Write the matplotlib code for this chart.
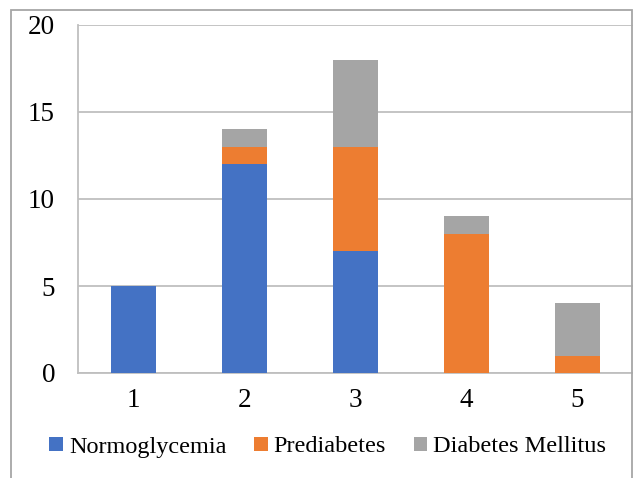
import matplotlib
matplotlib.use("Agg")
import matplotlib.pyplot as plt
from matplotlib.patches import Rectangle, Patch
import numpy as np

plt.rcParams['font.family'] = ['Liberation Serif', 'DejaVu Serif']

# chart data
categories = ["1", "2", "3", "4", "5"]
normoglycemia = [5, 12, 7, 0, 0]
prediabetes = [0, 1, 6, 8, 1]
diabetes_mellitus = [0, 1, 5, 1, 3]
series_names = ["Normoglycemia", "Prediabetes", "Diabetes Mellitus"]
series_colors = ["#4472C4", "#ED7D31", "#A5A5A5"]

fig = plt.figure(figsize=(6.33, 4.78), dpi=100)
ax = fig.add_axes([78 / 633, 1 - 373 / 478, 1 - 78 / 633, (373 - 25) / 478])

x = np.arange(len(categories))
bottom = np.zeros(len(categories))
for vals, name, col in zip([normoglycemia, prediabetes, diabetes_mellitus], series_names, series_colors):
    ax.bar(x, vals, width=0.4, bottom=bottom, color=col, label=name, zorder=3)
    bottom += np.array(vals)

ax.set_xlim(-0.5, len(categories) - 0.5)
ax.set_ylim(0, 20)
ax.set_yticks([0, 5, 10, 15, 20])
ax.set_xticks(x)
ax.set_xticklabels(categories)
ax.tick_params(axis="both", length=0, labelsize=19.5)
ax.tick_params(axis="y", pad=16.5)
ax.tick_params(axis="x", pad=11)
ax.yaxis.grid(True, color="#BFBFBF", linewidth=1.3, zorder=0)
ax.set_axisbelow(True)
for side in ["top", "right"]:
    ax.spines[side].set_visible(False)
for side in ["left", "bottom"]:
    ax.spines[side].set_color("#BFBFBF")
    ax.spines[side].set_linewidth(1.3)

# legend at bottom
handles = [Patch(facecolor=c, label=n) for n, c in zip(series_names, series_colors)]
fig.legend(handles=handles, loc="center", bbox_to_anchor=(0.518, 1 - 447 / 478), ncol=3,
           frameon=False, fontsize=17.5, handlelength=0.55, handleheight=0.55,
           handletextpad=0.25, columnspacing=1.15)

# outer chart border
fig.patches.append(Rectangle((11 / 633, -0.1), (632 - 11) / 633, 1.1 - 10 / 478,
                             transform=fig.transFigure, fill=False,
                             edgecolor="#A6A6A6", linewidth=1.3, clip_on=False))

fig.savefig("out.png", dpi=100)
